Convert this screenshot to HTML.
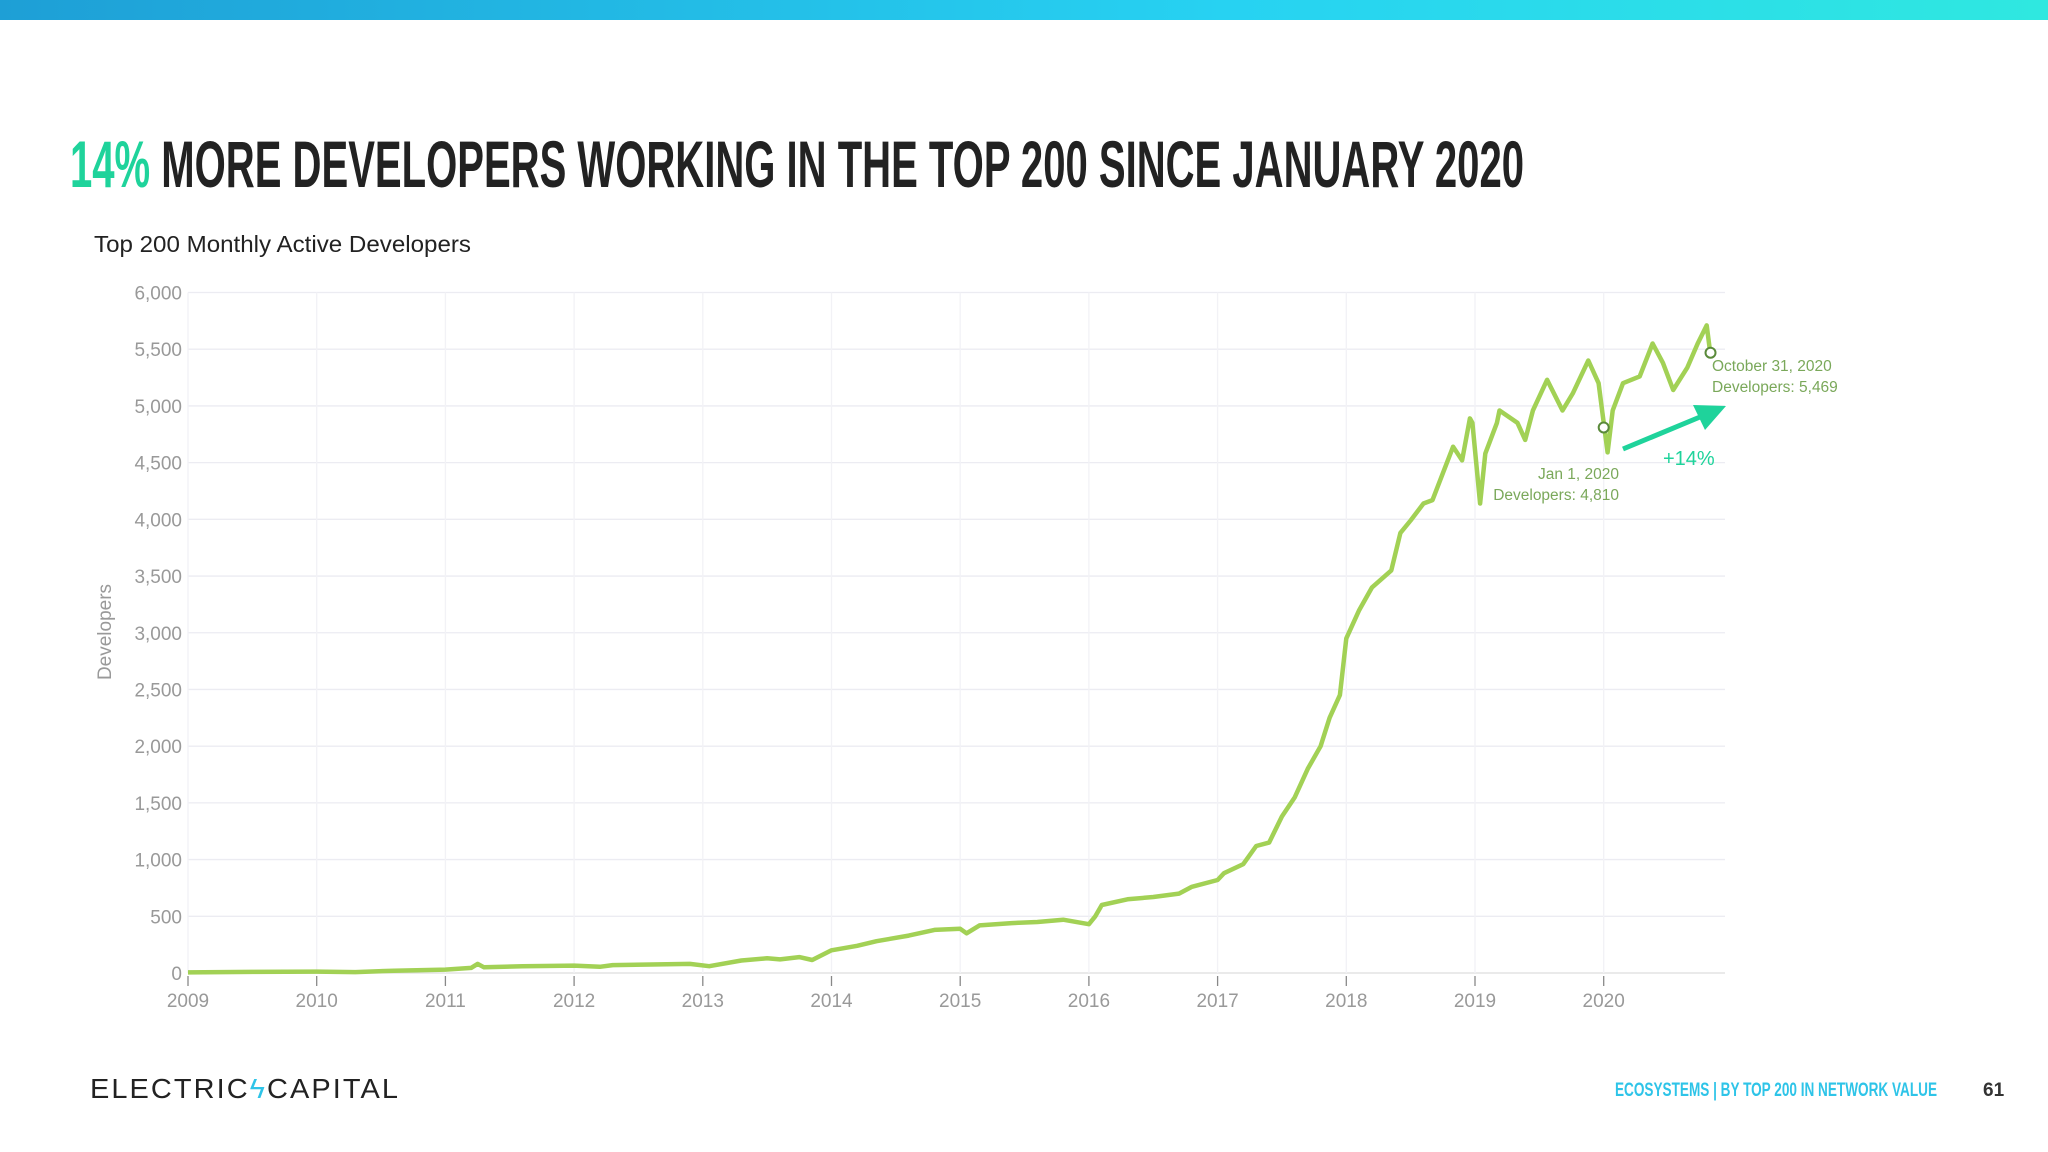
<!DOCTYPE html>
<html><head><meta charset="utf-8"><style>
html,body{margin:0;padding:0;background:#fff;width:2048px;height:1152px;overflow:hidden}
svg{display:block}
</style></head><body>
<svg id="chart" width="2048" height="1152" viewBox="0 0 2048 1152" xmlns="http://www.w3.org/2000/svg">
<defs><linearGradient id="tb" x1="0" x2="1"><stop offset="0" stop-color="#1e9fd6"/><stop offset="0.6" stop-color="#27d2f2"/><stop offset="1" stop-color="#2fe8e0"/></linearGradient></defs>
<rect x="0" y="0" width="2048" height="20" fill="url(#tb)"/>
<text x="70" y="187" font-family="'Liberation Sans Narrow','Liberation Sans',sans-serif" font-weight="bold" font-size="66" textLength="1454" lengthAdjust="spacingAndGlyphs" fill="#222"><tspan fill="#1fd39b">14%</tspan> MORE DEVELOPERS WORKING IN THE TOP 200 SINCE JANUARY 2020</text>
<text x="94" y="252" font-family="'Liberation Sans',sans-serif" font-size="23" textLength="377" lengthAdjust="spacingAndGlyphs" fill="#222">Top 200 Monthly Active Developers</text>
<g id="grid"></g>
<text transform="translate(111,632) rotate(-90)" text-anchor="middle" font-family="'Liberation Sans',sans-serif" font-size="19" fill="#999">Developers</text>
<g id="marks"></g>
<g font-family="'Liberation Sans',sans-serif" font-size="15.5" fill="#7aa85a">
<text x="1712" y="371">October 31, 2020</text><text x="1712" y="392">Developers: 5,469</text></g>
<g font-family="'Liberation Sans',sans-serif" font-size="15.5" fill="#7aa85a" text-anchor="end">
<text x="1619" y="479">Jan 1, 2020</text><text x="1619" y="500">Developers: 4,810</text></g>
<line x1="1623" y1="449" x2="1700" y2="417" stroke="#1fd39b" stroke-width="5"/>
<polygon points="1726,406 1693,405 1705,430" fill="#1fd39b"/>
<text x="1663" y="465" font-family="'Liberation Sans',sans-serif" font-size="20" fill="#1fd39b">+14%</text>
<text x="90" y="1098" font-family="'Liberation Sans',sans-serif" font-size="28" textLength="310" lengthAdjust="spacingAndGlyphs" fill="#222" letter-spacing="2">ELECTRIC<tspan fill="#2ec4e8">ϟ</tspan>CAPITAL</text>
<text x="1615" y="1096" font-family="'Liberation Sans Narrow','Liberation Sans',sans-serif" font-weight="bold" font-size="19" textLength="322" lengthAdjust="spacingAndGlyphs" fill="#2ec4e8">ECOSYSTEMS | BY TOP 200 IN NETWORK VALUE</text>
<text x="1983" y="1096" font-family="'Liberation Sans Narrow','Liberation Sans',sans-serif" font-weight="bold" font-size="19" fill="#333">61</text>
</svg>
<script>
const yTicks=[0,500,1000,1500,2000,2500,3000,3500,4000,4500,5000,5500,6000];
const xTicks=[2009,2010,2011,2012,2013,2014,2015,2016,2017,2018,2019,2020];
const dates=[2009.0,2009.5,2010.0,2010.3,2010.6,2011.0,2011.2,2011.25,2011.3,2011.6,2012.0,2012.2,2012.3,2012.6,2012.9,2013.05,2013.3,2013.5,2013.6,2013.75,2013.85,2014.0,2014.2,2014.35,2014.6,2014.8,2015.0,2015.05,2015.15,2015.4,2015.6,2015.8,2016.0,2016.05,2016.1,2016.3,2016.5,2016.7,2016.8,2017.0,2017.05,2017.2,2017.3,2017.4,2017.5,2017.6,2017.7,2017.8,2017.87,2017.95,2018.0,2018.1,2018.2,2018.35,2018.42,2018.5,2018.6,2018.67,2018.83,2018.9,2018.96,2018.98,2019.04,2019.08,2019.17,2019.19,2019.33,2019.39,2019.45,2019.56,2019.68,2019.76,2019.88,2019.96,2019.99,2020.03,2020.07,2020.15,2020.28,2020.38,2020.46,2020.54,2020.65,2020.73,2020.8,2020.83];
const developers=[5,10,12,8,20,30,45,80,50,60,65,55,70,75,80,60,110,130,120,140,115,200,240,280,330,380,390,350,420,440,450,470,430,500,600,650,670,700,760,820,880,960,1120,1150,1380,1550,1800,2000,2250,2450,2950,3200,3400,3550,3880,3990,4140,4170,4640,4520,4890,4850,4140,4580,4850,4960,4850,4700,4960,5230,4960,5110,5400,5200,4940,4590,4960,5200,5260,5550,5380,5140,5340,5550,5710,5450];
const markerDates=[2020.0,2020.83];
const markerValues=[4810,5469];
const NS='http://www.w3.org/2000/svg';
const X=t=>188+(t-2009)*128.7;
const Y=v=>973-v/6000*680.5;
function mk(tag,attrs,parent){const e=document.createElementNS(NS,tag);for(const k in attrs)e.setAttribute(k,attrs[k]);parent.appendChild(e);return e;}
const grid=document.getElementById('grid'),marks=document.getElementById('marks');
yTicks.forEach(v=>{
 const l=mk('line',{x1:188,x2:1725,y1:Y(v),y2:Y(v),stroke:v===0?'#ddd':'#ececf2','stroke-width':1.3},grid);
 
 
 const t=mk('text',{x:182,y:Y(v)+7,'text-anchor':'end','font-family':"'Liberation Sans',sans-serif",'font-size':19,fill:'#999'},grid);
 t.textContent=v.toLocaleString('en-US');
 
 
});
xTicks.forEach(y=>{
 const g=mk('line',{x1:X(y),x2:X(y),y1:Y(6000),y2:Y(0),stroke:'#f2f2f6','stroke-width':1.3},grid);
 
 
 const tk=mk('line',{x1:X(y),x2:X(y),y1:Y(0)+3,y2:Y(0)+13,stroke:'#888','stroke-width':1.3},grid);
 
 
 const t=mk('text',{x:X(y),y:Y(0)+34,'text-anchor':'middle','font-family':"'Liberation Sans',sans-serif",'font-size':19,fill:'#999'},grid);
 t.textContent=y;
 
 
});
const d=dates.map((t,i)=>(i?'L':'M')+X(t).toFixed(1)+','+Y(developers[i]).toFixed(1)).join('');
const p=mk('path',{d:d,fill:'none',stroke:'#a2d155','stroke-width':4.5,'stroke-linejoin':'round'},marks);


markerDates.forEach((t,i)=>{
 const c=mk('circle',{cx:X(t),cy:Y(markerValues[i]),r:5,fill:'#fff',stroke:'#5a8a3a','stroke-width':2},marks);
 
 
});
</script>
</body></html>
